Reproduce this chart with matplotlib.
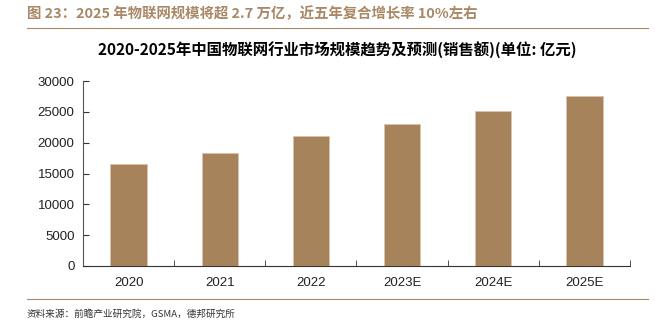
"""
Bar chart: China IoT market size 2020-2025E (sales, 100M CNY).
"""
import matplotlib
matplotlib.use("Agg")
import matplotlib.pyplot as plt
from matplotlib.lines import Line2D
import numpy as np

plt.rcParams["font.family"] = ["Liberation Sans", "Noto Sans CJK SC", "DejaVu Sans"]

# data
years = ["2020", "2021", "2022", "2023E", "2024E", "2025E"]
market_size = [16600, 18300, 21100, 23000, 25200, 27500]
y_ticks = [0, 5000, 10000, 15000, 20000, 25000, 30000]

_BAR = "#a6835b"
_BROWN = "#a88866"
_CJK = ["Noto Sans CJK SC", "DejaVu Sans"]

fig = plt.figure(figsize=(6.55, 3.33), dpi=100)
ax = fig.add_axes([83 / 655, 1 - 266 / 333, (630 - 83) / 655, (266 - 81) / 333])

x = np.arange(len(years))
ax.bar(x, market_size, width=0.4, color=_BAR, edgecolor="#d8c4ad", linewidth=0.6, zorder=3)

ax.set_xlim(-0.5, len(years) - 0.5)
ax.set_ylim(0, 30000)
ax.set_yticks(y_ticks)
ax.set_yticklabels([str(t) for t in y_ticks], fontsize=9.5, color="#222222")

# category labels centred, tick marks on category boundaries
ax.set_xticks(x)
ax.set_xticklabels(years, fontsize=9.5, color="#222222")
ax.tick_params(axis="x", length=0, pad=8)
ax.set_xticks(np.arange(len(years) + 1) - 0.5, minor=True)
ax.tick_params(axis="x", which="minor", direction="in", length=4, color="#333333")
ax.tick_params(axis="y", direction="in", length=4, color="#333333", pad=6)

for side in ["top", "right"]:
    ax.spines[side].set_visible(False)
ax.spines["left"].set_color("#555555")
ax.spines["bottom"].set_color("#333333")

# header, title, source
fig.text(27 / 655, 1 - 14 / 333,
         "图 23：2025 年物联网规模将超 2.7 万亿，近五年复合增长率 10%左右",
         fontsize=10.4, fontweight="bold", color=_BROWN, va="center", ha="left",
         family=_CJK)
fig.add_artist(Line2D([27 / 655, 648 / 655], [1 - 28 / 333, 1 - 28 / 333],
                      color=_BROWN, lw=0.8))
fig.text(337 / 655, 1 - 50 / 333,
         "2020-2025年中国物联网行业市场规模趋势及预测(销售额)(单位: 亿元)",
         fontsize=11.1, fontweight="bold", color="black", va="center", ha="center",
         family=_CJK)
fig.add_artist(Line2D([27 / 655, 648 / 655], [1 - 299 / 333, 1 - 299 / 333],
                      color=_BROWN, lw=0.8))
fig.text(27 / 655, 1 - 314 / 333, "资料来源：前瞻产业研究院，GSMA，德邦研究所",
         fontsize=6.9, color="#333333", va="center", ha="left", family=_CJK)

fig.savefig("out.png", dpi=100)
